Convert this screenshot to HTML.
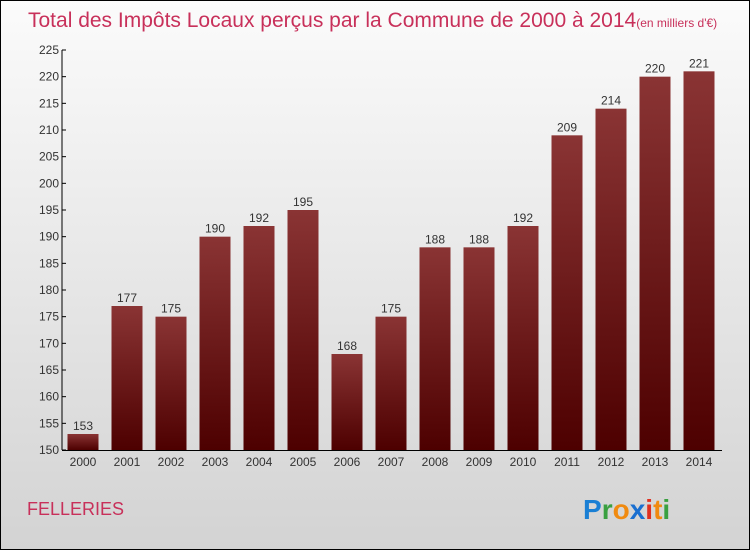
<!DOCTYPE html>
<html><head><meta charset="utf-8"><style>
html,body{margin:0;padding:0}
body{width:750px;height:550px;overflow:hidden;font-family:"Liberation Sans",sans-serif}
#wrap{position:absolute;left:0;top:0;width:748px;height:548px;border:1px solid #000;background:linear-gradient(#fbfbfb,#d3d3d3)}
</style></head><body>
<div id="wrap">
<svg width="748" height="548" id="svg" style="position:absolute;left:0;top:0">
<defs><linearGradient id="bg" x1="0" y1="0" x2="0" y2="1"><stop offset="0" stop-color="#8a3434"/><stop offset="1" stop-color="#4d0000"/></linearGradient></defs>
<text x="27" y="26" font-size="21" fill="#c8305a">Total des Impôts Locaux perçus par la Commune de 2000 à 2014<tspan font-size="12">(en milliers d'€)</tspan></text>
<text x="26" y="514" font-size="18" fill="#c8305a">FELLERIES</text>
<g font-size="28" font-weight="bold" font-family="'Liberation Sans',sans-serif">
<text x="582" y="518"><tspan fill="#1a7fd4">P</tspan><tspan fill="#3aa040">r</tspan><tspan fill="#f08a10">o</tspan><tspan fill="#1a6fd0">x</tspan><tspan fill="#e03020">i</tspan><tspan fill="#f08a10">t</tspan><tspan fill="#3aa040">i</tspan></text></g>
<g id="plot"></g>
</svg></div>
<script>
const years=["2000","2001","2002","2003","2004","2005","2006","2007","2008","2009","2010","2011","2012","2013","2014"];
const values=[153,177,175,190,192,195,168,175,188,188,192,209,214,220,221];
const yTicks=[150,155,160,165,170,175,180,185,190,195,200,205,210,215,220,225];
const NS="http://www.w3.org/2000/svg";
const g=document.getElementById('plot');
const x0=61,x1=721,yTop=49,yBot=449,vMin=150,vMax=225;
const y=v=>yBot-(v-vMin)/(vMax-vMin)*(yBot-yTop);
const bw=(x1-x0)/years.length;
const xc=i=>x0-1+bw*(i+0.5);
function el(t,a){const e=document.createElementNS(NS,t);for(const k in a)e.setAttribute(k,a[k]);g.appendChild(e);return e;}
values.forEach((v,i)=>{
 const r=el('rect',{x:xc(i)-15.5,y:y(v),width:31,height:yBot-y(v),fill:'url(#bg)'});
 
 
 const t=el('text',{x:xc(i),y:y(v)-4,'text-anchor':'middle','font-size':12,fill:'#333'});
 t.textContent=v;
 
 
 const xl=el('text',{x:xc(i),y:yBot+16,'text-anchor':'middle','font-size':12,fill:'#333'});
 xl.textContent=years[i];
 
 
});
yTicks.forEach(v=>{
 const l=el('line',{x1:x0,x2:x0+4,y1:y(v),y2:y(v),stroke:'#000'});
 
 
 const t=el('text',{x:x0-3,y:y(v)+4,'text-anchor':'end','font-size':12,fill:'#333'});
 t.textContent=v;
 
 
});
const ya=el('line',{x1:x0,x2:x0,y1:yTop,y2:yBot,stroke:'#000'});


const xa=el('line',{x1:x0,x2:x1,y1:yBot+0.5,y2:yBot+0.5,stroke:'#000'});


</script>
</body></html>
